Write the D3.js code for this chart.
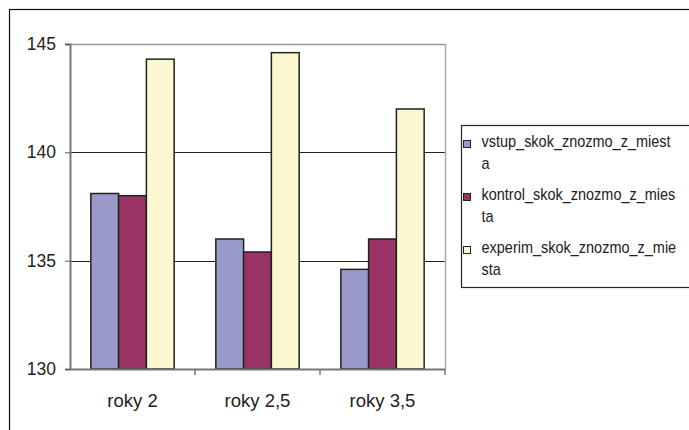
<!DOCTYPE html>
<html>
<head>
<meta charset="utf-8">
<script src="https://cdn.jsdelivr.net/npm/d3@7"></script>
<style>
  html, body { margin: 0; padding: 0; background: #fff; }
  svg { display: block; font-family: "Liberation Sans", Arial, sans-serif; }
</style>
</head>
<body>
<svg id="chart" width="689" height="430"></svg>
<script>
// Categories and series
const categories = ["roky 2", "roky 2,5", "roky 3,5"];
const seriesNames = ["vstup_skok_znozmo_z_miesta", "kontrol_skok_znozmo_z_miesta", "experim_skok_znozmo_z_miesta"];
const legendLines = [
  ["vstup_skok_znozmo_z_miest", "a"],
  ["kontrol_skok_znozmo_z_mies", "ta"],
  ["experim_skok_znozmo_z_mie", "sta"]
];
const vstup = [138.1, 136.0, 134.6];
const kontrol = [138.0, 135.4, 136.0];
const experim = [144.3, 144.6, 142.0];
const yTicks = [130, 135, 140, 145];
const seriesColors = ["#9999cc", "#993366", "#fbf8cf"];

const seriesValues = [vstup, kontrol, experim];
const data = categories.map((c, i) => ({
  category: c,
  values: seriesNames.map((s, j) => ({ series: s, idx: j, value: seriesValues[j][i] }))
}));

const svg = d3.select("#chart");

// Outer chart frame
svg.append("rect")
  .attr("x", 9.5).attr("y", 9.5)
  .attr("width", 700).attr("height", 440)
  .attr("fill", "none").attr("stroke", "#111").attr("stroke-width", 1.2);

const plot = { left: 70, top: 44, right: 445, bottom: 369 };

const x0 = d3.scaleBand().domain(categories).range([plot.left, plot.right]).paddingInner(0).paddingOuter(0);
const bandW = x0.bandwidth();
const barW = bandW / 4.5;
const x1 = d3.scaleBand().domain(seriesNames).range([0, barW * 3]);
const y = d3.scaleLinear().domain([130, 145]).range([plot.bottom, plot.top]);

// Gridlines
svg.append("g").selectAll("line")
  .data(yTicks.filter(t => t > 130))
  .join("line")
  .attr("x1", plot.left).attr("x2", plot.right)
  .attr("y1", d => Math.round(y(d)) + 0.5).attr("y2", d => Math.round(y(d)) + 0.5)
  .attr("stroke", d => d === 145 ? "#999" : "#222")
  .attr("stroke-width", d => d === 145 ? 1.5 : 1);

// Plot area right border
svg.append("line")
  .attr("x1", plot.right + 0.5).attr("x2", plot.right + 0.5)
  .attr("y1", plot.top).attr("y2", plot.bottom)
  .attr("stroke", "#aaa").attr("stroke-width", 1.5);

// Bars
const groups = svg.append("g").selectAll("g")
  .data(data).join("g")
  .attr("transform", d => `translate(${x0(d.category) + (bandW - barW * 3) / 2},0)`);

groups.selectAll("rect")
  .data(d => d.values).join("rect")
  .attr("x", d => x1(d.series))
  .attr("y", d => y(d.value))
  .attr("width", barW)
  .attr("height", d => y(130) - y(d.value))
  .attr("fill", d => seriesColors[d.idx])
  .attr("stroke", "#222").attr("stroke-width", 1.5);

// Y axis
const yAxis = d3.axisLeft(y).tickValues(yTicks).tickSize(5).tickPadding(9).tickFormat(d3.format("d"));
const gy = svg.append("g").attr("transform", `translate(${plot.left},0)`).call(yAxis);
gy.select(".domain").attr("stroke", "#777").attr("stroke-width", 2);
gy.selectAll(".tick line").attr("stroke", "#555");
gy.selectAll(".tick text").attr("font-size", 17.5).attr("fill", "#222")
  .attr("font-family", "Liberation Sans, Arial, sans-serif");

// X axis
const xAxis = d3.axisBottom(x0).tickSize(0).tickPadding(25);
const gx = svg.append("g").attr("transform", `translate(0,${plot.bottom})`).call(xAxis);
gx.select(".domain").attr("stroke", "#777").attr("stroke-width", 2);
gx.selectAll(".tick text").attr("font-size", 18.5).attr("fill", "#222")
  .attr("font-family", "Liberation Sans, Arial, sans-serif");

// Category separator ticks
svg.append("g").selectAll("line")
  .data(categories.slice(1).concat(["__end"]))
  .join("line")
  .attr("x1", (d, i) => i < 2 ? x0(d) : plot.right)
  .attr("x2", (d, i) => i < 2 ? x0(d) : plot.right)
  .attr("y1", plot.bottom).attr("y2", plot.bottom + 6)
  .attr("stroke", "#777").attr("stroke-width", 1.5);

// Legend
const legend = svg.append("g");
legend.append("rect")
  .attr("x", 461.5).attr("y", 125.5)
  .attr("width", 240).attr("height", 162)
  .attr("fill", "#fff").attr("stroke", "#222").attr("stroke-width", 1.2);

const items = legend.selectAll("g.item")
  .data(legendLines).join("g")
  .attr("class", "item")
  .attr("transform", (d, i) => `translate(0,${130 + i * 53})`);

items.append("rect")
  .attr("x", 463.5).attr("y", 10.5)
  .attr("width", 7).attr("height", 7)
  .attr("fill", (d, i) => seriesColors[i])
  .attr("stroke", "#222").attr("stroke-width", 1);

// Legend labels, slightly condensed horizontally
items.each(function(lines) {
  const t = d3.select(this).append("text")
    .attr("transform", "translate(481.5,0) scale(0.905,1)")
    .attr("font-size", 16).attr("fill", "#222");
  lines.forEach((ln, k) => {
    t.append("tspan").attr("x", 0).attr("y", 17 + k * 22).text(ln);
  });
});
</script>
</body>
</html>
